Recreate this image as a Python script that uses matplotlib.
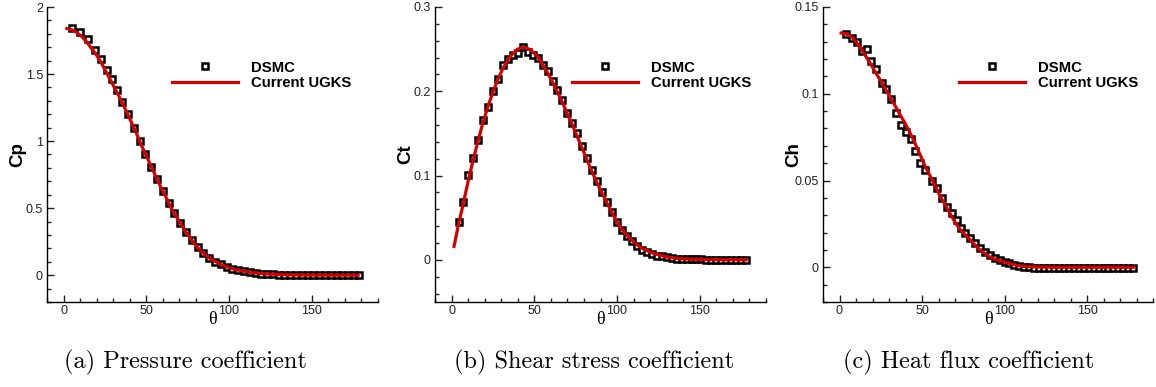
import matplotlib
matplotlib.use("Agg")
import matplotlib.pyplot as plt
from matplotlib.ticker import MultipleLocator, FuncFormatter

# ---------------- data ----------------
cp_dsmc_theta = [5, 10, 14.5, 19, 22.5, 26, 29, 32, 35.5, 39, 42.5, 46, 49.5, 53, 56.5,
                 60, 63.5, 67, 70.5, 74, 77.5, 81, 84.5, 88, 91.5, 95, 98.5, 102, 105.5,
                 109, 112.5, 116, 119.5, 123, 126.5, 130, 133.5, 137, 140.5, 144, 147.5,
                 151, 154.5, 158, 161.5, 165, 168.5, 172, 175.5, 178.5]
cp_dsmc = [1.84, 1.81, 1.76, 1.68, 1.61, 1.53, 1.46, 1.38, 1.29, 1.20,
           1.10, 1.00, 0.90, 0.81, 0.72, 0.63, 0.54, 0.46, 0.39, 0.32,
           0.26, 0.21, 0.165, 0.13, 0.10, 0.08, 0.062, 0.048, 0.037, 0.028,
           0.021, 0.016, 0.012, 0.009, 0.007, 0.005, 0.004, 0.003, 0.002, 0.0015,
           0.001, 0.001, 0.0008, 0.0005, 0.0004, 0.0003, 0.0002, 0.0001, 0.0, 0.0]
cp_ugks_theta = [2, 5, 8, 11, 14, 17, 20, 23, 26, 29, 32, 35, 38, 41, 44, 47, 50, 53, 56,
                 59, 62, 65, 68, 71, 74, 77, 80, 83, 86, 89, 92, 95, 98, 101, 104, 107,
                 110, 115, 120, 125, 130, 135, 140, 145, 150, 155, 160, 165, 170, 175, 178]
cp_ugks = [1.84, 1.83, 1.81, 1.78, 1.74, 1.69, 1.64, 1.58, 1.51, 1.44,
           1.37, 1.30, 1.22, 1.14, 1.06, 0.97, 0.89, 0.81, 0.73, 0.65,
           0.58, 0.50, 0.44, 0.38, 0.32, 0.27, 0.22, 0.18, 0.15, 0.12,
           0.10, 0.08, 0.065, 0.052, 0.042, 0.034, 0.027,
           0.018, 0.012, 0.008, 0.005, 0.003, 0.002, 0.001, 0.001, 0.0005,
           0.0003, 0.0002, 0.0001, 0.0, 0.0]

ct_dsmc_theta = [4.4, 7, 10, 13, 16, 19, 22, 25, 28, 31, 34, 37, 40, 43, 46, 49, 52, 55,
                 58, 61, 64, 67, 70, 73, 76, 79, 82, 85, 88, 91, 94, 97, 100, 103, 106,
                 109, 112, 115, 118, 121, 124, 127, 130, 133, 136, 139, 142, 145, 148,
                 151, 154, 157, 160, 163, 166, 169, 172, 175, 178]
ct_dsmc = [0.0455, 0.069, 0.101, 0.121, 0.142, 0.166, 0.181, 0.200, 0.214, 0.2315,
           0.238, 0.243, 0.245, 0.253, 0.247, 0.243, 0.239, 0.231, 0.224, 0.212,
           0.202, 0.190, 0.174, 0.162, 0.150, 0.135, 0.121, 0.107, 0.093, 0.081,
           0.069, 0.057, 0.0455, 0.036, 0.028, 0.022, 0.016, 0.012, 0.009, 0.007,
           0.005, 0.004, 0.003, 0.002, 0.0015, 0.001, 0.001, 0.0008, 0.0006, 0.0005,
           0.0004, 0.0003, 0.0003, 0.0002, 0.0002, 0.0001, 0.0001, 0.0, 0.0]
ct_ugks_theta = [1.5, 4, 7, 10, 13, 16, 19, 22, 25, 28, 31, 34, 37, 40, 43, 46, 49, 52,
                 55, 58, 61, 64, 67, 70, 73, 76, 79, 82, 85, 88, 91, 94, 97, 100, 103,
                 106, 109, 112, 115, 120, 125, 130, 135, 140, 145, 150, 160, 170, 178]
ct_ugks = [0.016, 0.040, 0.066, 0.093, 0.118, 0.141, 0.163, 0.182, 0.199, 0.214,
           0.227, 0.237, 0.245, 0.250, 0.252, 0.251, 0.247, 0.241, 0.232, 0.222,
           0.211, 0.199, 0.187, 0.173, 0.160, 0.146, 0.132, 0.118, 0.104, 0.091,
           0.079, 0.067, 0.056, 0.045, 0.036, 0.029, 0.023, 0.018, 0.014,
           0.009, 0.006, 0.0035, 0.002, 0.0012, 0.0008, 0.0005, 0.0002, 0.0001, 0.0]

ch_dsmc_theta = [4, 7.4, 10.4, 13.9, 16.5, 19.3, 21.9, 25.5, 28, 31, 34, 37, 40, 43.4,
                 46, 49, 52, 56, 59, 62, 65, 68, 71, 73.5, 76, 79, 82, 85, 88, 91, 94,
                 97, 100, 103, 106, 109, 112, 115, 118, 121, 124, 127, 130, 133, 136,
                 139, 142, 145, 148, 151, 154, 157, 160, 163, 166, 169, 172, 175, 178]
ch_dsmc = [0.1345, 0.132, 0.130, 0.1245, 0.126, 0.119, 0.114, 0.106, 0.103, 0.097,
           0.089, 0.082, 0.078, 0.074, 0.0668, 0.060, 0.056, 0.0495, 0.0457, 0.040,
           0.035, 0.031, 0.0275, 0.0227, 0.020, 0.017, 0.014, 0.011, 0.009, 0.0073,
           0.0054, 0.004, 0.003, 0.0022, 0.0014, 0.0008, 0.0003, 0.0, -0.0003, -0.0004,
           -0.0005, -0.0005, -0.0005, -0.0004, -0.0005, -0.0004, -0.0005, -0.0004,
           -0.0004, -0.0005, -0.0004, -0.0004, -0.0005, -0.0004, -0.0004, -0.0004,
           -0.0004, -0.0004, -0.0004]
ch_ugks_theta = [1, 4, 7, 10, 13, 16, 19, 22, 25, 28, 31, 34, 37, 40, 43, 46, 49, 52,
                 55, 58, 61, 64, 67, 70, 73, 76, 79, 82, 85, 88, 91, 94, 97, 100, 104,
                 108, 112, 120, 130, 140, 150, 160, 170, 178]
ch_ugks = [0.135, 0.1345, 0.133, 0.130, 0.126, 0.1215, 0.117, 0.112, 0.1075, 0.1025,
           0.0975, 0.0925, 0.0875, 0.0825, 0.077, 0.071, 0.0645, 0.058, 0.0525, 0.047,
           0.041, 0.036, 0.031, 0.026, 0.022, 0.019, 0.016, 0.013, 0.010, 0.008,
           0.006, 0.0048, 0.0038, 0.003, 0.002, 0.001, 0.0005, 0.0002, 0.0, 0.0,
           0.0, 0.0, 0.0, 0.0]

ylabels = ["Cp", "Ct", "Ch"]
captions = ["(a) Pressure coefficient", "(b) Shear stress coefficient",
            "(c) Heat flux coefficient"]
series = [(cp_dsmc_theta, cp_dsmc, cp_ugks_theta, cp_ugks),
          (ct_dsmc_theta, ct_dsmc, ct_ugks_theta, ct_ugks),
          (ch_dsmc_theta, ch_dsmc, ch_ugks_theta, ch_ugks)]
ylims = [(-0.2, 2.0), (-0.05, 0.3), (-0.02, 0.15)]
ymajor = [0.5, 0.1, 0.05]
yminor = [0.1, 0.02, 0.01]

# ---------------- layout ----------------
W, H = 1156, 387
fig = plt.figure(figsize=(W / 100, H / 100), dpi=100)
lefts = [47, 435, 823]
widths = [331, 331, 330]
top, bottom = 7, 302
legend_x = [0.378, 0.413, 0.412]
caption_x = [185, 594, 969]

RED = "#d40000"


def fmt_func(v, p):
    if abs(v) < 1e-9:
        return "0"
    return "%g" % round(v, 6)


for i in range(3):
    ax = fig.add_axes([lefts[i] / W, 1 - bottom / H, widths[i] / W, (bottom - top) / H])
    th_d, v_d, th_u, v_u = series[i]
    ax.plot(th_d, v_d, linestyle="none", marker="s", markersize=5.0,
            markerfacecolor="white", markeredgecolor="black", markeredgewidth=1.8,
            label="DSMC", zorder=2)
    ax.plot(th_u, v_u, color=RED, linewidth=2.3, label="Current UGKS", zorder=3)

    ax.set_xlim(-10, 190)
    ax.set_ylim(*ylims[i])
    ax.xaxis.set_major_locator(MultipleLocator(50))
    ax.xaxis.set_minor_locator(MultipleLocator(10))
    ax.yaxis.set_major_locator(MultipleLocator(ymajor[i]))
    ax.yaxis.set_minor_locator(MultipleLocator(yminor[i]))
    ax.xaxis.set_major_formatter(FuncFormatter(fmt_func))
    ax.yaxis.set_major_formatter(FuncFormatter(fmt_func))

    for s in ["top", "right"]:
        ax.spines[s].set_visible(False)
    for s in ["left", "bottom"]:
        ax.spines[s].set_linewidth(1.0)
    ax.tick_params(which="both", direction="in", top=False, right=False,
                   colors="#222222", width=1.0)
    ax.tick_params(which="major", length=5)
    ax.tick_params(which="minor", length=2.8)
    ax.tick_params(axis="x", which="major", pad=2.5)
    ax.tick_params(axis="y", which="major", pad=3)
    for lab in ax.get_xticklabels() + ax.get_yticklabels():
        lab.set_fontfamily("Liberation Sans")
        lab.set_fontsize(9)
        lab.set_color("#222222")

    ax.set_ylabel(ylabels[i], fontsize=13.5, fontweight="bold",
                  family="Liberation Sans", va="center")
    ax.yaxis.set_label_coords(-29 / widths[i], 0.5)
    ax.set_xlabel("\u03b8", fontsize=13, family="Liberation Serif", va="center")
    ax.xaxis.set_label_coords(0.5, -(320 - bottom) / (bottom - top))

    ax.legend(loc="center left", bbox_to_anchor=(legend_x[i], 0.768),
              frameon=False, borderpad=0, borderaxespad=0,
              handlelength=4.45, handletextpad=0.87, labelspacing=0.1,
              numpoints=1, prop=dict(family="Liberation Sans", weight="bold", size=10.7))

    fig.text(caption_x[i] / W, 1 - 362 / H, captions[i], ha="center", va="center",
             fontsize=17.5, family="cmr10")

fig.savefig("out.png", dpi=100)
